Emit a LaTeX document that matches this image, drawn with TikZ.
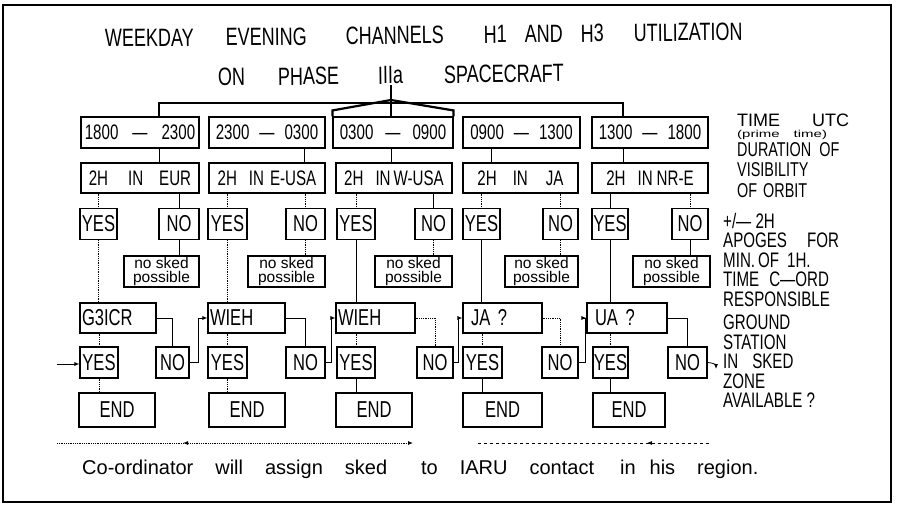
\documentclass[tikz,border=0pt]{standalone}
\usepackage{fontspec}
\setmainfont{Liberation Sans}
\newfontfamily\lettering[FakeStretch=0.72]{Liberation Sans}
\newfontfamily\widelet[FakeStretch=1.5]{Liberation Sans}
\usetikzlibrary{arrows.meta,calc,decorations.markings}
\tikzset{
  box/.style={draw,line width=1.1pt,inner sep=0pt,font=\lettering\fontsize{21}{22}\selectfont},
  tbox/.style={box,minimum width=#1,minimum height=31pt},
  hrow/.style={box,minimum width=#1,minimum height=30pt},
  ans/.style={box,minimum width=#1,minimum height=31pt,font=\lettering\fontsize{23}{23}\selectfont},
  nosked/.style={box,minimum width=#1,minimum height=31pt,align=center,font=\fontsize{15.5}{14.5}\selectfont},
  stn/.style={box,text width=#1,minimum height=30pt,align=left,inner xsep=2pt,font=\lettering\fontsize{23}{23}\selectfont},
  endbox/.style={box,minimum width=#1,minimum height=34pt,font=\lettering\fontsize{23}{23}\selectfont},
  link/.style={line width=0.8pt},
  faint/.style={link,densely dotted},
  bracket/.style={line width=1.3pt},
  heavy/.style={line width=2.2pt},
  arr/.style={-{Latex[length=5pt,width=4pt]}},
  note/.style={anchor=north west,align=left,inner sep=0pt,font=\lettering\fontsize{21}{19.5}\selectfont},
  every node/.style={text=black}
}
\begin{document}
\begin{tikzpicture}[x=1pt,y=-1pt]
\useasboundingbox (0,0) rectangle (902,505);
\draw[line width=2pt] (3,5) rectangle (891,502);
% heading
\node[anchor=base west,inner sep=0pt,rotate=0.6,font=\lettering\fontsize{25}{25}\selectfont] (head1) at (105,47)
  {WEEKDAY\hspace{32pt}EVENING\hspace{39pt}CHANNELS\hspace{40pt}H1\hspace{18pt}AND\hspace{18pt}H3\hspace{30pt}UTILIZATION};
\node[anchor=base west,inner sep=0pt,rotate=0.7,font=\lettering\fontsize{25}{25}\selectfont] (head2) at (218,86)
  {ON\hspace{33pt}PHASE\hspace{39pt}IIIa\hspace{41pt}SPACECRAFT};
% time slots
\node[tbox=118pt] (t1) at (140,132.5) {1800\hspace{14pt}—\hspace{14pt}2300};
\node[tbox=116pt] (t2) at (267,132.5) {2300\hspace{10pt}—\hspace{10pt}0300};
\node[tbox=120pt] (t3) at (393,132.5) {0300\hspace{12pt}—\hspace{12pt}0900};
\node[tbox=117pt] (t4) at (521.5,132.5) {0900\hspace{10pt}—\hspace{10pt}1300};
\node[tbox=116pt] (t5) at (650,132.5) {1300\hspace{10pt}—\hspace{10pt}1800};
% visibility
\node[hrow=118pt] (h1) at (140,178) {2H\hspace{20pt}IN\hspace{16pt}EUR};
\node[hrow=116pt] (h2) at (267,178) {2H\hspace{12pt}IN\hspace{6pt}E-USA};
\node[hrow=116pt] (h3) at (394,178) {2H\hspace{12pt}IN\hspace{3pt}W-USA};
\node[hrow=115pt] (h4) at (520.5,178) {2H\hspace{16pt}IN\hspace{18pt}JA\hspace{22pt}};
\node[hrow=116pt] (h5) at (650,178) {2H\hspace{12pt}IN\hspace{4pt}NR-E};
% yes / no
\node[ans=37pt] (y1) at (98.5,224) {YES};
\node[ans=40pt] (n1) at (179,224) {NO};
\node[ans=39pt] (y2) at (227.5,224) {YES};
\node[ans=39pt] (n2) at (305.5,224) {NO};
\node[ans=38pt] (y3) at (356,224) {YES};
\node[ans=37pt] (n3) at (433.5,224) {NO};
\node[ans=37pt] (y4) at (481.5,224) {YES};
\node[ans=35pt] (n4) at (560.5,224) {NO};
\node[ans=36pt] (y5) at (610,224) {YES};
\node[ans=36pt] (n5) at (690,224) {NO};
% no sked
\node[nosked=75pt] (k1) at (161.5,271.5) {no sked\\possible};
\node[nosked=77pt] (k2) at (286.5,271.5) {no sked\\possible};
\node[nosked=77pt] (k3) at (413.5,271.5) {no sked\\possible};
\node[nosked=73pt] (k4) at (541.5,271.5) {no sked\\possible};
\node[nosked=77pt] (k5) at (671.5,271.5) {no sked\\possible};
% coordinators
\node[stn=72pt] (s1) at (118,318) {G3ICR};
\node[stn=73pt] (s2) at (246.5,318) {WIEH};
\node[stn=75pt] (s3) at (375.5,318) {WIEH};
\node[stn=75pt] (s4) at (502.5,318) {\hspace{6pt}JA ?};
\node[stn=76pt] (s5) at (627,318) {\hspace{6pt}UA ?};
% station available
\node[ans=38pt] (ya1) at (99,362.5) {YES};
\node[ans=33pt] (na1) at (172.5,362.5) {NO};
\node[ans=39pt] (ya2) at (227.5,362.5) {YES};
\node[ans=39pt] (na2) at (305.5,362.5) {NO};
\node[ans=38pt] (ya3) at (356,362.5) {YES};
\node[ans=36pt] (na3) at (435,362.5) {NO};
\node[ans=39pt] (ya4) at (482.5,362.5) {YES};
\node[ans=36pt] (na4) at (560,362.5) {NO};
\node[ans=35pt] (ya5) at (610.5,362.5) {YES};
\node[ans=39pt] (na5) at (687.5,362.5) {NO};
% ends
\node[endbox=76pt] (e1) at (117,410) {END};
\node[endbox=76pt] (e2) at (247,410) {END};
\node[endbox=76pt] (e3) at (374,410) {END};
\node[endbox=79pt] (e4) at (502.5,410) {END};
\node[endbox=72pt] (e5) at (629,410) {END};
% side notes
\node[anchor=north west,inner sep=0pt,font=\fontsize{18}{18}\selectfont] (utc) at (737,114) {TIME\hspace{32pt}UTC};
\node[anchor=north west,inner sep=0pt,font=\widelet\fontsize{10}{10}\selectfont] (prime) at (737,130) {(prime\hspace{14pt}time)};
\node[note,font=\lettering\fontsize{20}{20.5}\selectfont] (dur) at (737,142) {DURATION\hspace{8pt}OF\\VISIBILITY\\OF\hspace{6pt}ORBIT};
\node[note] (apo) at (723,213) {+/— 2H\\APOGES\hspace{20pt}FOR\\MIN.\hspace{3pt}OF\hspace{8pt}1H.\\TIME\hspace{10pt}C—ORD\\RESPONSIBLE};
\node[note] (gnd) at (723,315) {GROUND\\STATION\\IN\hspace{14pt}SKED\\ZONE\\AVAILABLE ?};
% footer
\node[anchor=base west,inner sep=0pt,font=\fontsize{20}{20}\selectfont] (foot) at (82,474)
  {Co-ordinator\hspace{22pt}will\hspace{22pt}assign\hspace{22pt}sked\hspace{34pt}to\hspace{22pt}IARU\hspace{22pt}contact\hspace{26pt}in\hspace{14pt}his\hspace{22pt}region.};
% tree from heading
\coordinate (stem) at (391,85);
\coordinate (hub) at (391,103);
\coordinate (apex) at (391,100);
\coordinate (d1) at (159,0);
\coordinate (d2) at (304,0);
\coordinate (d4) at (491,0);
\coordinate (d5) at (623,0);
\draw[bracket] (t1.north -| d1) |- (hub) -| (t5.north -| d5);
\draw[bracket] (stem) -- (t3.north -| hub);
\draw[heavy] (t3.north west) -- ++(0,-6) -- (apex) -- ([yshift=6pt]t3.north east) -- (t3.north east);
% slot to visibility
\draw[link] (t1.south -| d1) -- (h1.north -| d1);
\draw[link] (t2.south -| d2) -- (h2.north -| d2);
\draw[link] (t3.south -| hub) -- (h3.north -| hub);
\draw[link] (t4.south -| d4) -- (h4.north -| d4);
\draw[link] (t5.south -| d5) -- (h5.north -| d5);
% visibility to yes / no
\draw[faint] (h1.south -| y1) -- (y1.north);
\draw[link] (h1.south -| n1) -- (n1.north);
\draw[faint] (h2.south -| y2) -- (y2.north);
\draw[faint] (h2.south -| n2) -- (n2.north);
\draw[faint] (h3.south -| y3) -- (y3.north);
\draw[link] (h3.south -| n3) -- (n3.north);
\draw[faint] (h4.south -| y4) -- (y4.north);
\draw[faint] (h4.south -| n4) -- (n4.north);
\draw[link] (h5.south -| y5) -- (y5.north);
\draw[faint] (h5.south -| n5) -- (n5.north);
% no to no sked
\draw[link] (n1.south) -- (n1 |- k1.north);
\draw[faint] (n2.south) -- (n2 |- k2.north);
\draw[faint] (n3.south) -- (n3 |- k3.north);
\draw[faint] (n4.south) -- (n4 |- k4.north);
\draw[link] (n5.south) -- (n5 |- k5.north);
% yes to coordinator
\draw[faint] (y1.south) -- (y1 |- s1.north);
\draw[faint] (y2.south) -- (y2 |- s2.north);
\draw[link] (y3.south) -- (y3 |- s3.north);
\draw[link] (y4.south) -- (y4 |- s4.north);
\draw[link] (y5.south) -- (y5 |- s5.north);
% coordinator to yes / no
\draw[faint] (ya1 |- s1.south) -- (ya1.north);
\draw[faint] (ya2 |- s2.south) -- (ya2.north);
\draw[faint] (ya3 |- s3.south) -- (ya3.north);
\draw[faint] (ya4 |- s4.south) -- (ya4.north);
\draw[faint] (ya5 |- s5.south) -- (ya5.north);
\draw[link] (s1.east) -| (na1.north);
\draw[link] (s2.east) -| (na2.north);
\draw[faint] (s3.east) -| (na3.north);
\draw[faint] (s4.east) -| (na4.north);
\draw[link] (s5.east) -| (na5.north);
% no passes to next region
\draw[link,arr] (na1.east) -- ($(na1.east)!.5!(ya2.west)$) |- (s2.west);
\draw[link,arr] (na2.east) -- ($(na2.east)!.5!(ya3.west)$) |- (s3.west);
\draw[link,arr] (na3.east) -- ($(na3.east)!.5!(ya4.west)$) |- (s4.west);
\draw[link,arr] (na4.east) -- ($(na4.east)!.5!(ya5.west)$) |- (s5.west);
\coordinate (out5) at (716,369);
\draw[link,arr] (na5.east) to[out=0,in=90] (out5);
\coordinate (in1) at (57,364);
\draw[link,arr] (in1) -- (in1 -| ya1.west);
% yes to end
\draw[faint] (ya1.south) -- (ya1 |- e1.north);
\draw[faint] (ya2.south) -- (ya2 |- e2.north);
\draw[link] (ya3.south) -- (ya3 |- e3.north);
\draw[link] (ya4.south) -- (ya4 |- e4.north);
\draw[line width=1.1pt] (ya5.south) -- (ya5 |- e5.north);
% direction of hand over
\coordinate (r1a) at (57,443);
\coordinate (r1b) at (413,443);
\coordinate (r2a) at (478,443);
\coordinate (r2b) at (710,443);
\draw[faint,arr,postaction={decorate},decoration={markings,mark=at position 0.354 with {\arrowreversed{Latex[length=5pt,width=4pt]}}}] (r1a) -- (r1b);
\draw[link,dashed,postaction={decorate},decoration={markings,mark=at position 0.728 with {\arrowreversed{Latex[length=5pt,width=4pt]}}}] (r2a) -- (r2b);
\end{tikzpicture}
\end{document}
